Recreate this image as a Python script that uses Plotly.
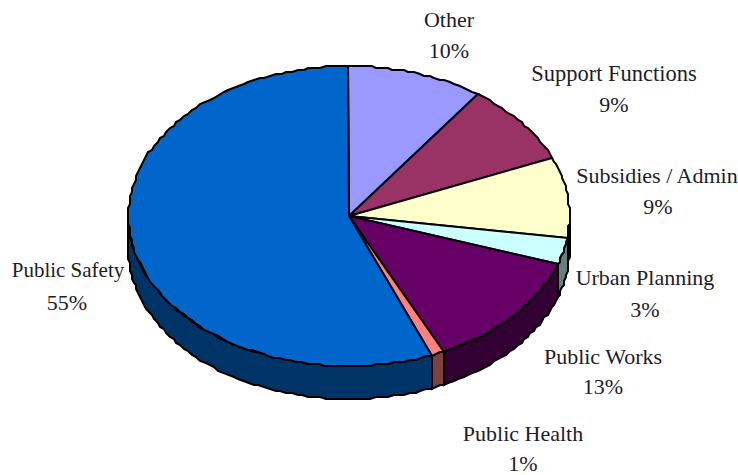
import numpy as np
import plotly.graph_objects as go

# Budget shares, clockwise from twelve o'clock
categories = ["Other", "Support Functions", "Subsidies / Admin", "Urban Planning",
              "Public Works", "Public Health", "Public Safety"]
shares = [10, 9, 9, 3, 13, 1, 55]
top_colors = ["#9999FF", "#993366", "#FFFFCC", "#CCFFFF", "#660066", "#FF8080", "#0066CC"]
wall_colors = ["#4D4D80", "#4D1A33", "#808066", "#667F7F", "#330033", "#804040", "#003366"]

# Label anchors: name line and percentage line for each category
name_x = [449, 614, 657, 645, 603, 523, 68]
name_y = [21, 75, 177, 279, 358, 435, 272]
pct_x = [449, 614, 658, 645, 603, 523, 67]
pct_y = [52, 106, 208, 311, 388, 465, 304]
name_sizes = [22, 22.5, 22, 22, 22, 22, 21]

# Projected disc geometry
CX, CY, RX, RY, DEPTH = 349, 216, 220.5, 150, 33
FORESHORTEN = 2.0   # degrees of view correction that widen the near side of the disc
SNAP = 2            # outline raster step, gives the rim its stepped edge
LINE = 2
TEXT = "#1C1C28"
SERIF = "Liberation Serif"


def rim(t_from, t_to, drop=0.0):
    """Stepped points along the ellipse between two clockwise angles in degrees."""
    n = max(int(abs(t_to - t_from) / 1.5) + 2, 2)
    a = np.radians(np.linspace(t_from, t_to, n))
    t = a - np.radians(FORESHORTEN) * (1 - np.cos(a))
    x = CX + RX * np.sin(t)
    y = CY - RY * np.cos(t)
    return np.round(x / SNAP) * SNAP, np.round(y / SNAP) * SNAP + drop


edges = np.concatenate([[0], np.cumsum(shares)]) / sum(shares) * 360
fig = go.Figure()

# Side walls: only the part of each slice on the front half of the disc shows
for i in range(len(shares)):
    lo, hi = max(edges[i], 90), min(edges[i + 1], 270)
    if lo >= hi:
        continue
    x_top, y_top = rim(lo, hi)
    x_low, y_low = rim(hi, lo, DEPTH)
    fig.add_trace(go.Scatter(
        x=np.r_[x_top, x_low, x_top[0]], y=np.r_[y_top, y_low, y_top[0]],
        mode="lines", fill="toself", fillcolor=wall_colors[i],
        line=dict(color="black", width=LINE), hoverinfo="skip", showlegend=False))

# Top faces
for i in range(len(shares)):
    xs, ys = rim(edges[i], edges[i + 1])
    fig.add_trace(go.Scatter(
        x=np.r_[CX, xs, CX], y=np.r_[CY, ys, CY],
        mode="lines", fill="toself", fillcolor=top_colors[i],
        line=dict(color="black", width=LINE), name=categories[i],
        hoverinfo="name", showlegend=False))

# Category names and percentages sit on separate, widely spaced lines
fig.add_trace(go.Scatter(
    x=name_x, y=name_y, mode="text", text=categories,
    textposition="middle center",
    textfont=dict(family=SERIF, size=name_sizes, color=TEXT),
    hoverinfo="skip", showlegend=False))
fig.add_trace(go.Scatter(
    x=pct_x, y=pct_y, mode="text", text=[f"{v}%" for v in shares],
    textposition="middle center",
    textfont=dict(family=SERIF, size=22, color=TEXT),
    hoverinfo="skip", showlegend=False))

fig.update_layout(
    width=738, height=475, margin=dict(l=0, r=0, t=0, b=0),
    paper_bgcolor="white", plot_bgcolor="white",
    xaxis=dict(range=[0, 738], visible=False, fixedrange=True),
    yaxis=dict(range=[475, 0], visible=False, fixedrange=True),
)
fig.write_html("out.html", config={"displayModeBar": False})
